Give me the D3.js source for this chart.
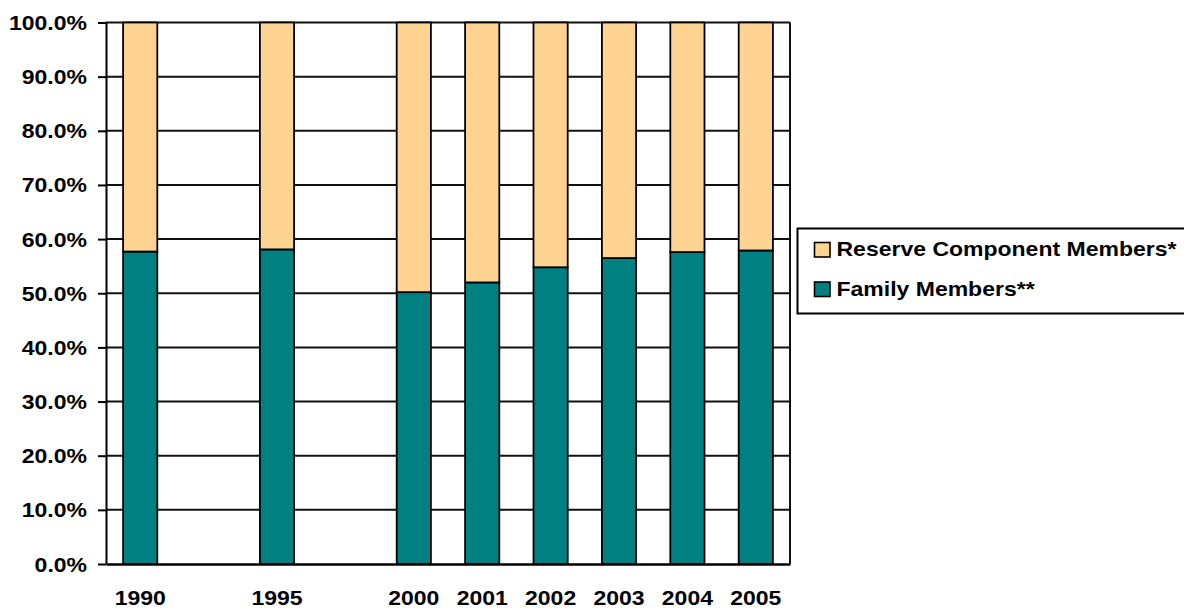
<!DOCTYPE html>
<html>
<head>
<meta charset="utf-8">
<script src="https://cdn.jsdelivr.net/npm/d3@7"></script>
<style>
  html, body { margin: 0; padding: 0; background: #fff; }
  svg { display: block; }
  text { font-family: "Liberation Sans", Arial, sans-serif; font-weight: bold; }
</style>
</head>
<body>
<svg id="chart" width="1184" height="608"></svg>
<script>
// ---- data ----
const categories = ["1990", "", "1995", "", "2000", "2001", "2002", "2003", "2004", "2005"];
const familyValues  = [57.7, null, 58.1, null, 50.2, 52.0, 54.8, 56.5, 57.6, 57.9];
const reserveValues = [42.3, null, 41.9, null, 49.8, 48.0, 45.2, 43.5, 42.4, 42.1];
const seriesNames = ["Reserve Component Members*", "Family Members**"];
const seriesColors = ["#FFD392", "#008080"];
const yTickValues = [0, 10, 20, 30, 40, 50, 60, 70, 80, 90, 100];

// ---- layout ----
const L = 106, R = 790, T = 22.5, B = 564;
const FS = 19.5, SX = 1.18;
const svg = d3.select("#chart");

const x = d3.scaleBand().domain(d3.range(categories.length)).range([L, R])
  .paddingInner(0.5).paddingOuter(0.25);
const y = d3.scaleLinear().domain([0, 100]).range([B, T]);

// gridlines
svg.append("g").selectAll("line").data(yTickValues.filter(v => v > 0)).join("line")
  .attr("x1", L).attr("x2", R)
  .attr("y1", d => y(d)).attr("y2", d => y(d))
  .attr("stroke", "#111").attr("stroke-width", 2);

// right border
svg.append("line").attr("x1", R).attr("x2", R).attr("y1", T).attr("y2", B)
  .attr("stroke", "#111").attr("stroke-width", 2);

// stacked bars
const rows = categories.map((c, i) => ({ i, fam: familyValues[i], res: reserveValues[i] }))
  .filter(d => d.fam != null);
const bars = svg.append("g");
bars.selectAll("rect.fam").data(rows).join("rect").attr("class", "fam")
  .attr("x", d => x(d.i)).attr("width", x.bandwidth())
  .attr("y", d => y(d.fam)).attr("height", d => y(0) - y(d.fam))
  .attr("fill", seriesColors[1]).attr("stroke", "#000").attr("stroke-width", 1.8);
bars.selectAll("rect.res").data(rows).join("rect").attr("class", "res")
  .attr("x", d => x(d.i)).attr("width", x.bandwidth())
  .attr("y", d => y(d.fam + d.res)).attr("height", d => y(d.fam) - y(d.fam + d.res))
  .attr("fill", seriesColors[0]).attr("stroke", "#000").attr("stroke-width", 1.8);

// y axis
const yAxis = svg.append("g").attr("transform", `translate(${L},0)`)
  .call(d3.axisLeft(y).tickValues(yTickValues).tickSize(8).tickSizeOuter(0)
    .tickFormat(v => d3.format(".1f")(v) + "%"));
yAxis.select(".domain").attr("stroke", "#000").attr("stroke-width", 2);
yAxis.selectAll(".tick line").attr("stroke", "#000").attr("stroke-width", 2);
yAxis.selectAll(".tick text")
  .attr("x", -19 / SX).attr("dy", "0.36em")
  .attr("transform", `scale(${SX},1)`)
  .attr("font-size", FS).attr("fill", "#000");

// x axis
const xAxis = svg.append("g").attr("transform", `translate(0,${B})`)
  .call(d3.axisBottom(x).tickSize(0).tickSizeOuter(0).tickFormat(i => categories[i]));
xAxis.select(".domain").attr("stroke", "#000").attr("stroke-width", 2.6);
xAxis.selectAll(".tick text")
  .attr("y", 41.5).attr("dy", 0)
  .attr("transform", `scale(${SX},1)`)
  .attr("font-size", FS).attr("fill", "#000");

// legend
const lg = svg.append("g");
lg.append("rect").attr("x", 797.5).attr("y", 228.5).attr("width", 420).attr("height", 85)
  .attr("fill", "#fff").attr("stroke", "#000").attr("stroke-width", 2);
const legendRows = [0, 1];
const rowY = [249.5, 289];
legendRows.forEach((k, j) => {
  lg.append("rect").attr("x", 814.5).attr("y", rowY[j] - 7).attr("width", 15.5).attr("height", 14.5)
    .attr("fill", seriesColors[k]).attr("stroke", "#000").attr("stroke-width", 1.6);
  lg.append("text").attr("x", 836.5 / SX).attr("y", rowY[j] + 7)
    .attr("transform", `scale(${SX},1)`)
    .attr("font-size", FS).attr("fill", "#000").text(seriesNames[k]);
});
</script>
</body>
</html>
